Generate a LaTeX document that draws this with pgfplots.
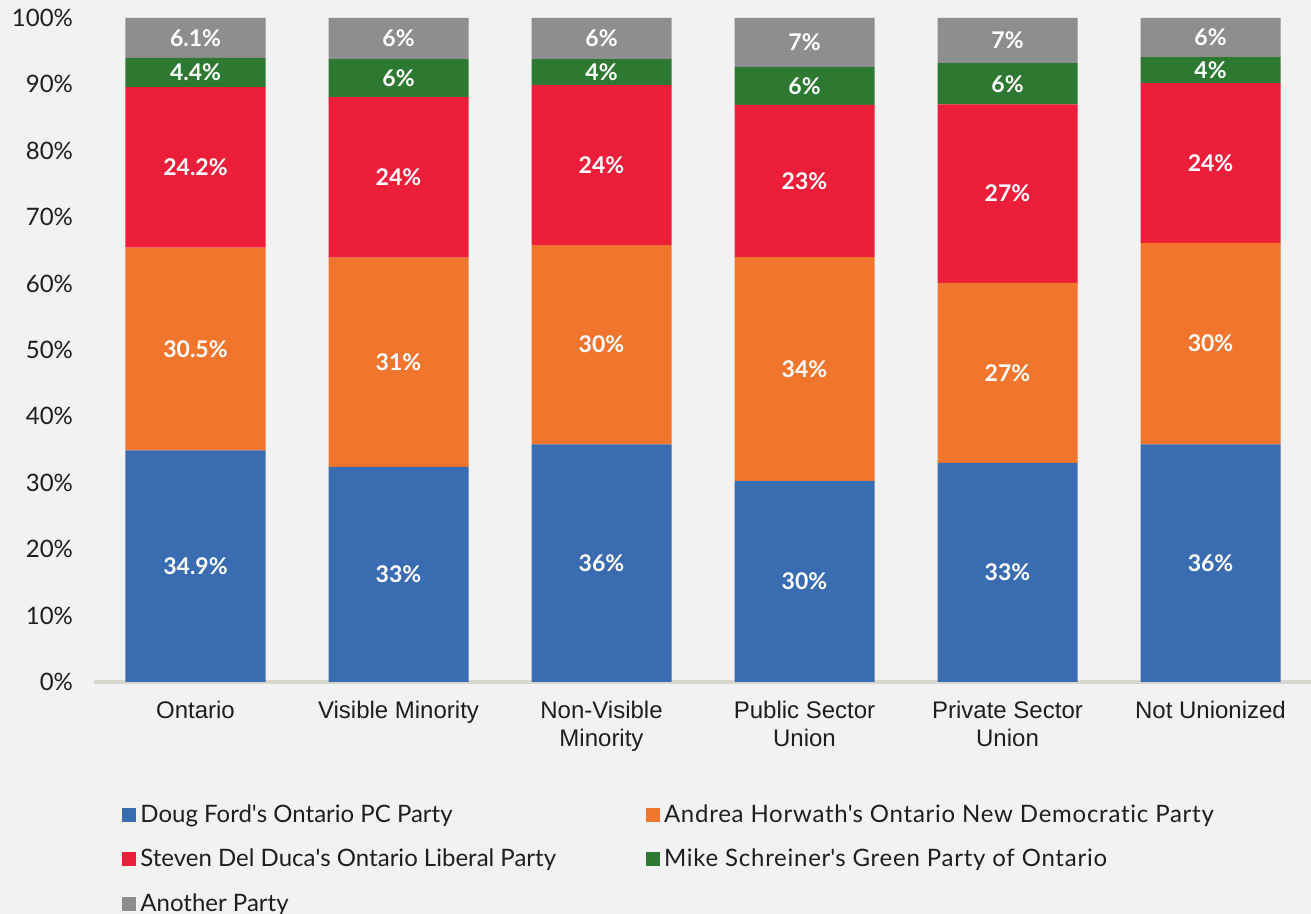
\documentclass[border=0pt]{standalone}
\usepackage{pgfplots}
\pgfplotsset{compat=1.18}
\usepackage{fontspec}
\setmainfont{Lato}[Ligatures={NoCommon}]
\newfontfamily\arial{Liberation Sans}
\definecolor{bg}{RGB}{242,242,242}
\definecolor{pcblue}{RGB}{58,108,178}
\definecolor{ndporange}{RGB}{242,117,46}
\definecolor{libred}{RGB}{237,30,58}
\definecolor{grngreen}{RGB}{46,121,50}
\definecolor{othgray}{RGB}{142,142,142}
\definecolor{axisline}{RGB}{217,213,207}
\definecolor{txt}{RGB}{30,30,30}
\newcommand{\q}{\textquotesingle}
\newcommand{\wide}{\addfontfeature{LetterSpace=3.1}}

% segment sizes (percent), one table per party
\pgfplotstableread{
x y
0 34.9
1 32.4
2 35.8
3 30.3
4 33.0
5 35.8
}\pc
\pgfplotstableread{
x y
0 30.5
1 31.5
2 30.0
3 33.7
4 27.1
5 30.3
}\ndp
\pgfplotstableread{
x y
0 24.2
1 24.2
2 24.1
3 22.9
4 26.9
5 24.1
}\lib
\pgfplotstableread{
x y
0 4.4
1 5.7
2 3.9
3 5.7
4 6.2
5 3.9
}\grn
\pgfplotstableread{
x y
0 6.0
1 6.2
2 6.2
3 7.4
4 6.8
5 5.9
}\oth
% label positions (segment middles) and printed values
\pgfplotstableread{
x y lab
0 17.45 34.9
0 50.15 30.5
0 77.5 24.2
0 91.8 4.4
0 97.0 6.1
1 16.2 33
1 48.15 31
1 76.0 24
1 90.95 6
1 96.9 6
2 17.9 36
2 50.8 30
2 77.85 24
2 91.85 4
2 96.9 6
3 15.15 30
3 47.15 34
3 75.45 23
3 89.75 6
3 96.3 7
4 16.5 33
4 46.55 27
4 73.55 27
4 90.1 6
4 96.6 7
5 17.9 36
5 50.95 30
5 78.15 24
5 92.15 4
5 97.05 6
}\labels

\pgfplotsset{
  sq/.style={fill=#1, draw=none,
    legend image code/.code={\fill[#1] (0pt,-3.5pt) rectangle (7pt,3.5pt);}},
}

\begin{document}
\begin{tikzpicture}
\fill[bg] (-47pt,-116pt) rectangle (608.5pt,341pt);
\useasboundingbox (-47pt,-116pt) rectangle (608.5pt,341pt);
\begin{axis}[
  at={(0,0)}, anchor=south west,
  width=609pt, height=332pt, scale only axis,
  xmin=-0.5, xmax=5.5, ymin=0, ymax=100,
  ybar stacked, bar width=70pt,
  axis lines*=left,
  x axis line style={draw=axisline, line width=2pt, -},
  y axis line style={draw=none},
  major tick length=0pt,
  ytick={0,10,...,100},
  yticklabel={\pgfmathprintnumber{\tick}\%},
  yticklabel style={font=\fontsize{12}{14}\selectfont, text=txt, xshift=-7pt},
  /pgf/number format/assume math mode=true,
  xtick={0,...,5},
  xticklabels={Ontario, Visible Minority, {Non-Visible\\Minority}, {Public Sector\\Union}, {Private Sector\\Union}, Not Unionized},
  xticklabel style={font=\arial\fontsize{12}{14}\selectfont, text=txt, align=center, yshift=-6pt},
  legend columns=2,
  legend cell align=left,
  legend style={at={(axis description cs:0,0)}, anchor=north west,
    xshift=11pt, yshift=-57pt, draw=none, fill=none,
    font=\fontsize{12}{14}\selectfont, text=txt,
    row sep=8pt,
    /tikz/every even column/.append style={column sep=43pt}},
]
\addplot[sq=pcblue] table[x=x,y=y] {\pc};
\addplot[sq=ndporange] table[x=x,y=y] {\ndp};
\addplot[sq=libred] table[x=x,y=y] {\lib};
\addplot[sq=grngreen] table[x=x,y=y] {\grn};
\addplot[sq=othgray] table[x=x,y=y] {\oth};
\legend{Doug Ford\q s Ontario PC Party, {\wide Andrea Horwath\q s Ontario New Democratic Party}, Steven Del Duca\q s Ontario Liberal Party, {\wide Mike Schreiner\q s Green Party of Ontario}, Another Party}
\end{axis}
\begin{axis}[
  at={(0,0)}, anchor=south west,
  width=609pt, height=332pt, scale only axis,
  xmin=-0.5, xmax=5.5, ymin=0, ymax=100,
  hide axis,
]
\addplot[draw=none, mark=none, nodes near coords={\pgfplotspointmeta\%},
  point meta=explicit symbolic,
  every node near coord/.style={anchor=center, text=white,
    font=\bfseries\fontsize{11.5}{13}\selectfont}]
  table[x=x, y=y, meta=lab] {\labels};
\end{axis}
\end{tikzpicture}
\end{document}
